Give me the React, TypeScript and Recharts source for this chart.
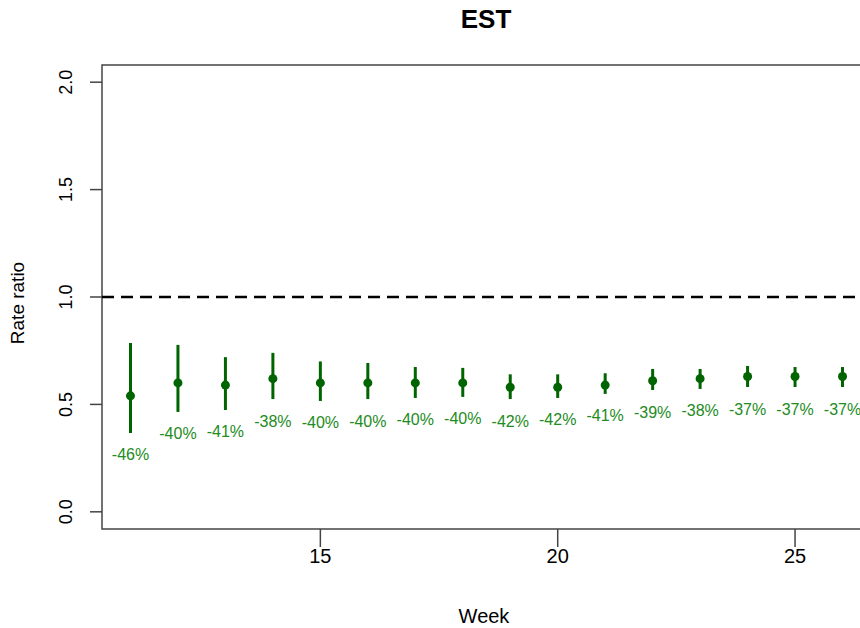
import React from 'react';
import {
  ScatterChart,
  Scatter,
  XAxis,
  YAxis,
  ErrorBar,
  ReferenceLine,
  ReferenceArea,
  Label,
} from 'recharts';

const weeks = [11, 12, 13, 14, 15, 16, 17, 18, 19, 20, 21, 22, 23, 24, 25, 26];
const rateRatio = [0.54, 0.6, 0.59, 0.62, 0.6, 0.6, 0.6, 0.6, 0.58, 0.58, 0.59, 0.61, 0.62, 0.63, 0.63, 0.63];
const lowerCI = [0.367, 0.465, 0.474, 0.525, 0.516, 0.525, 0.53, 0.535, 0.525, 0.53, 0.549, 0.567, 0.572, 0.581, 0.581, 0.581];
const upperCI = [0.786, 0.777, 0.72, 0.74, 0.7, 0.693, 0.674, 0.67, 0.64, 0.64, 0.645, 0.665, 0.665, 0.679, 0.674, 0.674];
const pctLabels = ['-46%', '-40%', '-41%', '-38%', '-40%', '-40%', '-40%', '-40%', '-42%', '-42%', '-41%', '-39%', '-38%', '-37%', '-37%', '-37%'];
const xTicks = [15, 20, 25];
const yTicks = [0, 0.5, 1, 1.5, 2];
const xDomain = [10.4, 26.6];
const yDomain = [-0.08, 2.08];

const pointData = weeks.map((w, i) => ({
  week: w,
  y: rateRatio[i],
  err: [rateRatio[i] - lowerCI[i], upperCI[i] - rateRatio[i]],
}));
const labelData = weeks.map((w, i) => ({ week: w, y: lowerCI[i], label: pctLabels[i] }));

const FONT = '"Liberation Sans", Arial, Helvetica, sans-serif';
const DARK = '#006400';
const LABEL_GREEN = '#228B22';

const YTick = (props: any) => {
  const { x, y, payload } = props;
  return (
    <g transform={`translate(${x - 16},${y}) rotate(-90)`}>
      <text x={0} y={0} textAnchor="middle" fontFamily={FONT} fontSize={18} fill="#000">
        {Number(payload.value).toFixed(1)}
      </text>
    </g>
  );
};

const XTick = (props: any) => {
  const { x, y, payload } = props;
  return (
    <text x={x} y={y + 14} textAnchor="middle" fontFamily={FONT} fontSize={20} fill="#000">
      {payload.value}
    </text>
  );
};

const PointShape = (p: any) => <circle cx={p.cx} cy={p.cy} r={4.5} fill={DARK} />;

const LabelShape = (p: any) => (
  <text
    x={p.cx}
    y={p.cy + 22}
    textAnchor="middle"
    dominantBaseline="central"
    fontFamily={FONT}
    fontSize={16}
    fill={LABEL_GREEN}
  >
    {p.payload?.label ?? p.label}
  </text>
);

export default function App() {
  return (
    <div style={{ position: 'absolute', left: 0, top: 0, width: 860, height: 628, overflow: 'hidden', background: '#fff' }}>
      <div
        style={{
          position: 'absolute',
          left: 0,
          width: 972,
          top: 5,
          textAlign: 'center',
          fontFamily: FONT,
          fontWeight: 'bold',
          fontSize: 26,
          lineHeight: '28px',
        }}
      >
        EST
      </div>
      <ScatterChart width={900} height={628} margin={{ top: 65, right: 29, bottom: 39, left: 0 }}>
        <XAxis
          type="number"
          dataKey="week"
          domain={xDomain}
          ticks={xTicks}
          allowDataOverflow
          axisLine={false}
          tickLine={{ stroke: '#444', strokeWidth: 1.5 }}
          tickSize={18}
          height={60}
          tick={<XTick />}
          interval={0}
        >
          <Label
            content={() => (
              <text x={484} y={623} textAnchor="middle" fontFamily={FONT} fontSize={20} fill="#000">
                Week
              </text>
            )}
          />
        </XAxis>
        <YAxis
          type="number"
          dataKey="y"
          domain={yDomain}
          ticks={yTicks}
          allowDataOverflow
          axisLine={false}
          tickLine={{ stroke: '#444', strokeWidth: 1.5 }}
          tickSize={12}
          width={102}
          tick={<YTick />}
          interval={0}
        >
          <Label
            content={() => (
              <g transform="translate(24,303) rotate(-90)">
                <text x={0} y={0} textAnchor="middle" fontFamily={FONT} fontSize={19} fill="#000">
                  Rate ratio
                </text>
              </g>
            )}
          />
        </YAxis>
        <ReferenceArea
          x1={xDomain[0]}
          x2={xDomain[1]}
          y1={yDomain[0]}
          y2={yDomain[1]}
          fill="none"
          fillOpacity={0}
          stroke="#444"
          strokeWidth={1.5}
          ifOverflow="visible"
        />
        <ReferenceLine y={1} stroke="#000" strokeWidth={2.5} strokeDasharray="12 7" ifOverflow="visible" />
        <Scatter data={pointData} shape={PointShape} isAnimationActive={false}>
          <ErrorBar dataKey="err" direction="y" width={0} strokeWidth={3} stroke={DARK} isAnimationActive={false} />
        </Scatter>
        <Scatter data={labelData} shape={LabelShape} isAnimationActive={false} />
      </ScatterChart>
    </div>
  );
}
